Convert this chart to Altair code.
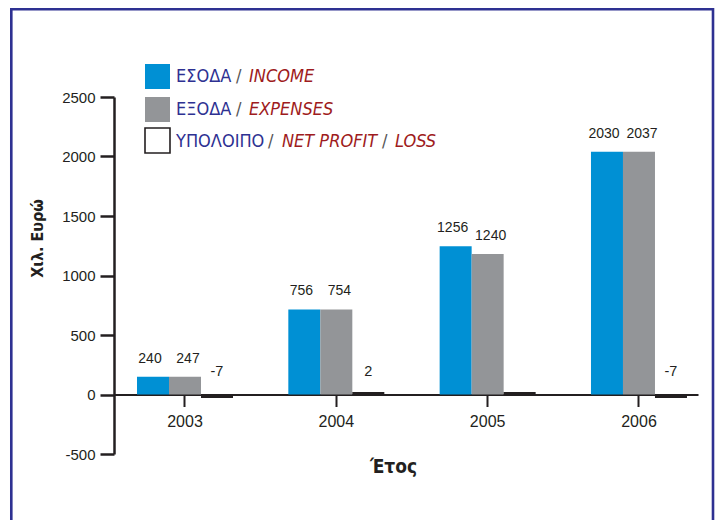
import altair as alt
import pandas as pd

years = ["2003", "2004", "2005", "2006"]
series = ["income", "expenses", "net"]
income_bar = [150, 715, 1245, 2040]
expenses_bar = [150, 715, 1180, 2040]
net_bar = [-30, 20, 20, -30]
income_labels = ["240", "756", "1256", "2030"]
expenses_labels = ["247", "754", "1240", "2037"]
net_labels = ["-7", "2", "", "-7"]
y_ticks = [-500, 0, 500, 1000, 1500, 2000, 2500]

series_colors = ["#0090D4", "#939598", "#231F20"]
NAVY = "#2E3192"
RED = "#9E1B20"
INK = "#231F20"
NUM_FONT = "Liberation Sans, Arial, sans-serif"
COND_FONT = "DejaVu Sans Condensed, Liberation Sans, sans-serif"

rows = []
for i, yr in enumerate(years):
    rows.append(dict(year=yr, series="income", value=income_bar[i], label=income_labels[i]))
    rows.append(dict(year=yr, series="expenses", value=expenses_bar[i], label=expenses_labels[i]))
    rows.append(dict(year=yr, series="net", value=net_bar[i], label=net_labels[i]))
df = pd.DataFrame(rows)

W, H = 584, 357

x_enc = alt.X(
    "year:N",
    sort=years,
    scale=alt.Scale(paddingInner=0.3656, paddingOuter=0.1124, align=0.676),
    axis=alt.Axis(
        title="Έτος", offset=-59.5, labelAngle=0, tickSize=12, tickWidth=2,
        domainWidth=2, domainColor=INK, tickColor=INK,
        labelFont=NUM_FONT, labelFontSize=16, labelPadding=7, labelColor=INK,
        titleFont=COND_FONT, titleFontSize=19, titleFontWeight="bold", titleColor=INK,
        titleX=279, titleY=72, titleBaseline="middle", titleAlign="center",
    ),
)
y_enc = alt.Y(
    "value:Q",
    scale=alt.Scale(domain=[-500, 2500], nice=False, zero=False),
    axis=alt.Axis(
        values=y_ticks, labelExpr="'' + datum.value", title="Χιλ. Ευρώ", grid=False,
        tickSize=14, tickWidth=2.5, domainWidth=2.5, domainColor=INK, tickColor=INK,
        labelFont=NUM_FONT, labelFontSize=15, labelPadding=5, labelColor=INK,
        titleFont=COND_FONT, titleFontSize=16, titleFontWeight="bold", titleColor=INK,
        titleX=-77, titleY=141, titleAngle=-90, titleBaseline="middle", titleAlign="center",
    ),
)
xoff = alt.XOffset("series:N", sort=series,
                   scale=alt.Scale(domain=series, paddingInner=0, paddingOuter=0))
color = alt.Color("series:N", scale=alt.Scale(domain=series, range=series_colors), legend=None)

base = alt.Chart(df)
bars = base.mark_bar().encode(x=x_enc, y=y_enc, xOffset=xoff, color=color)


def value_labels(name, dx):
    return base.transform_filter(f"datum.series == '{name}'").mark_text(
        baseline="alphabetic", dy=-14, dx=dx, font=NUM_FONT, fontSize=14, color=INK
    ).encode(x=alt.X("year:N", sort=years), y="value:Q", xOffset=xoff, text="label:N")


inc_text = value_labels("income", -3)
exp_text = value_labels("expenses", 3)
net_text = base.transform_filter("datum.series == 'net'").transform_calculate(
    value="0"
).mark_text(baseline="alphabetic", dy=-19, font=NUM_FONT, fontSize=14.5, color=INK).encode(
    x=alt.X("year:N", sort=years), y="value:Q", xOffset=xoff, text="label:N"
)

dummy = alt.Chart(pd.DataFrame({"a": [0]}))

frame = dummy.mark_rect(fill="transparent", stroke=NAVY, strokeWidth=2.6).encode(
    x=alt.value(-102.7), x2=alt.value(599), y=alt.value(-87.7), y2=alt.value(600)
)

legend_layers = []
squares = [
    (series_colors[0], None, -33),
    (series_colors[1], None, 0),
    ("#FFFFFF", INK, 31),
]
for fill, stroke, y0 in squares:
    kw = dict(fill=fill)
    if stroke:
        kw.update(stroke=stroke, strokeWidth=1.6)
    legend_layers.append(
        dummy.mark_rect(**kw).encode(
            x=alt.value(31), x2=alt.value(56), y=alt.value(y0), y2=alt.value(y0 + 25)
        )
    )

legend_text = [
    ("ΕΣΟΔΑ", NAVY, "normal", 62, -20.5),
    ("/", "#555555", "normal", 122, -20.5),
    ("INCOME", RED, "italic", 135, -20.5),
    ("ΕΞΟΔΑ", NAVY, "normal", 62, 13),
    ("/", "#555555", "normal", 122, 13),
    ("EXPENSES", RED, "italic", 135, 13),
    ("ΥΠΟΛΟΙΠΟ", NAVY, "normal", 62, 45),
    ("/", "#555555", "normal", 154, 45),
    ("NET PROFIT", RED, "italic", 168, 45),
    ("/", "#555555", "normal", 268, 45),
    ("LOSS", RED, "italic", 281, 45),
]
for txt, col, style, px, py in legend_text:
    legend_layers.append(
        dummy.mark_text(
            text=txt, color=col, fontStyle=style, font=COND_FONT, fontSize=18,
            align="left", baseline="middle"
        ).encode(x=alt.value(px), y=alt.value(py))
    )

chart = alt.layer(bars, inc_text, exp_text, net_text, frame, *legend_layers).properties(
    width=W, height=H,
    autosize=alt.AutoSizeParams(type="none"),
    padding={"left": 106, "top": 89, "right": 17, "bottom": 66},
    background="white",
).configure_view(strokeWidth=0)

chart.save("out.html", embed_options={"renderer": "svg", "actions": False})
